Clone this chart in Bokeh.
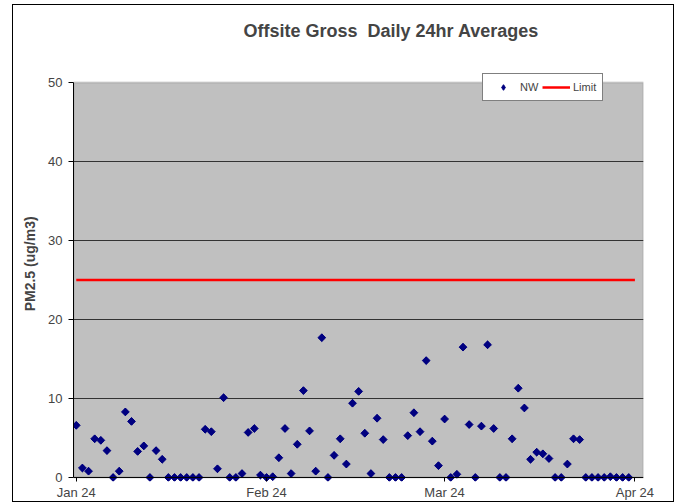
import math
from bokeh.plotting import figure
from bokeh.models import (FixedTicker, Legend, LegendItem, ColumnDataSource, Range1d,
                          Title, Span, BoxAnnotation)
from bokeh.embed import file_html
from bokeh.resources import INLINE

# Day offsets from 1 Jan 2024 (daily readings, 1 Jan .. 31 Mar)
days = list(range(91))
nw = [6.6, 1.2, 0.8, 4.9, 4.7, 3.4, 0.0, 0.8, 8.3, 7.1,
      3.3, 4.0, 0.0, 3.4, 2.3, 0.0, 0.0, 0.0, 0.0, 0.0,
      0.0, 6.1, 5.8, 1.1, 10.1, 0.0, 0.0, 0.5, 5.7, 6.2,
      0.3, 0.0, 0.1, 2.5, 6.2, 0.5, 4.2, 11.0, 5.9, 0.8,
      17.7, 0.0, 2.8, 4.9, 1.7, 9.4, 10.9, 5.6, 0.5, 7.5,
      4.8, 0.0, 0.0, 0.0, 5.3, 8.2, 5.8, 14.8, 4.6, 1.5,
      7.4, 0.0, 0.4, 16.5, 6.7, 0.0, 6.5, 16.8, 6.2, 0.0,
      0.0, 4.9, 11.3, 8.8, 2.3, 3.2, 3.0, 2.4, 0.0, 0.0,
      1.7, 4.9, 4.8, 0.0, 0.0, 0.0, 0.0, 0.1, 0.0, 0.0,
      0.0]
limit_days = [0, 91]
limit_vals = [25, 25]
month_ticks = [0, 31, 60, 91]
month_labels = ["Jan 24", "Feb 24", "Mar 24", "Apr 24"]
y_ticks = [0, 10, 20, 30, 40, 50]
grid_ticks = [10, 20, 30, 40]
y_min, y_max = 0, 50

FONT = "Liberation Sans"
NAVY = "#000080"

p = figure(width=662, height=498, output_backend="svg", toolbar_location=None,
           title=None,
           x_range=Range1d(-0.45, 92.4), y_range=Range1d(-0.509, 51.145),
           min_border_left=60, min_border_right=32, min_border_top=68,
           min_border_bottom=22)
p.styles = {"border": "1px solid black", "margin-left": "12px", "margin-top": "4px"}

p.background_fill_color = "white"
p.border_fill_color = "white"
p.outline_line_color = None

# plot area (grey) spanning the value range
p.add_layout(BoxAnnotation(bottom=y_min, top=y_max, fill_color="#C0C0C0", fill_alpha=1,
                           line_color="#808080", line_width=2, level="image"))

# Titles: spacer nearest to the frame, real title above it
p.add_layout(Title(text=" ", text_font=FONT, text_font_size="10px", standoff=15), "above")
p.add_layout(Title(text="Offsite Gross\u00a0 Daily 24hr Averages", text_font=FONT,
                   text_font_size="18px", text_font_style="bold", align="left",
                   offset=170, standoff=10), "above")

# Grid
p.xgrid.visible = False
p.ygrid.ticker = FixedTicker(ticks=grid_ticks)
p.ygrid.grid_line_color = "#333333"
p.ygrid.grid_line_width = 1

# Axes
p.yaxis.ticker = FixedTicker(ticks=y_ticks)
p.yaxis.bounds = (y_min, y_max)
p.yaxis.axis_label = "\u00a0" * 7 + "PM2.5 (ug/m3)"
p.yaxis.axis_label_text_font = FONT
p.yaxis.axis_label_text_font_size = "14px"
p.yaxis.axis_label_text_font_style = "bold"
p.yaxis.axis_label_standoff = 7
p.yaxis.major_label_text_font = FONT
p.yaxis.major_label_text_font_size = "13px"
p.yaxis.major_label_standoff = 6
p.yaxis.major_tick_out = 5
p.yaxis.major_tick_in = 0
p.yaxis.minor_tick_line_color = None
p.yaxis.axis_line_color = "black"
p.yaxis.major_tick_line_color = "black"

p.xaxis.ticker = FixedTicker(ticks=month_ticks)
p.xaxis.major_label_overrides = {t: l for t, l in zip(month_ticks, month_labels)}
p.xaxis.major_label_text_font = FONT
p.xaxis.major_label_text_font_size = "13px"
p.xaxis.major_label_standoff = 3
p.xaxis.major_tick_out = 0
p.xaxis.major_tick_in = 4
p.xaxis.minor_tick_line_color = None
p.xaxis.axis_line_color = None
p.xaxis.major_tick_line_color = "black"
p.add_layout(Span(location=y_min, dimension="width", line_color="black", line_width=1))

src = ColumnDataSource(data=dict(day=days, nw=nw))
# legend key glyph (diamond), drawn underneath the rotated-square markers
r_key = p.scatter("day", "nw", source=src, marker="diamond", size=7,
                  fill_color=NAVY, line_color=NAVY)
r_nw = p.scatter("day", "nw", source=src, marker="square", size=5.5,
                 angle=math.pi / 4, fill_color=NAVY, line_color=NAVY)
r_lim = p.line(limit_days, limit_vals, line_color="#FF0000", line_width=2.5)

legend = Legend(items=[LegendItem(label="NW", renderers=[r_key]),
                       LegendItem(label="Limit", renderers=[r_lim])],
                orientation="horizontal", location=(409, 380))
legend.label_text_font = FONT
legend.label_text_font_size = "11px"
legend.glyph_width = 28
legend.glyph_height = 14
legend.label_height = 14
legend.label_standoff = 3
legend.spacing = 2
legend.padding = 6
legend.margin = 0
legend.border_line_color = "black"
legend.border_line_width = 1
legend.background_fill_color = "white"
legend.background_fill_alpha = 1
p.add_layout(legend)

open("out.html", "w").write(file_html(p, INLINE))
